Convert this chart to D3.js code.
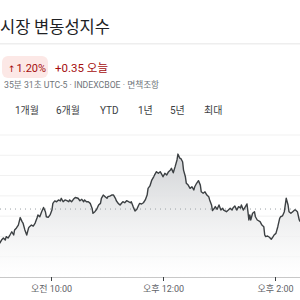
<!DOCTYPE html>
<html><head><meta charset="utf-8">
<script src="https://cdn.jsdelivr.net/npm/d3@7"></script>
<style>
html,body{margin:0;padding:0;background:#fff;overflow:hidden}
svg{display:block;font-family:Roboto,"Noto Sans CJK KR",sans-serif}
</style></head><body>
<svg id="c" width="300" height="300"></svg>
<script>
// ---- data ----
const title = "시장 변동성지수";
const changeArrow = "↑";
const changePct = "1.20%";
const changeAbs = "+0.35 오늘";
const subline = "35분 31초 UTC-5 · INDEXCBOE · 면책조항";
const ranges = ["1개월", "6개월", "YTD", "1년", "5년", "최대"];
const previousClose = 28.835;
const gridValues = [28.6, 28.7, 28.8, 28.9, 29.0, 29.1, 29.2];
const tickMinutes = [600, 720, 840];
const tickLabels = ["오전 10:00", "오후 12:00", "오후 2:00"];
const minutes = [545,547,549,551,552,554,556,558,560,561,563,565,567,569,570,572,574,576,577,579,581,583,585,586,588,590,592,594,595,597,599,601,602,604,606,608,610,611,613,615,617,619,620,622,624,626,629,631,633,635,636,638,640,642,644,645,647,649,651,653,654,656,658,660,661,663,665,667,669,670,672,674,676,677,679,681,683,685,686,688,690,692,694,695,697,699,701,703,704,706,708,710,711,713,715,717,719,720,722,724,726,728,729,731,733,735,736,738,739,741,742,744,745,747,749,751,753,754,756,758,760,761,763,765,767,769,770,772,773,775,776,778,780,782,784,785,788,790,792,794,795,797,799,801,803,804,806,808,810,811,812,813,814,816,818,819,821,824,826,828,829,830,832,834,836,838,839,841,843,845,846,848,850,852,854,855,857,859,861,862,864,866,867];
const values = [28.666,28.682,28.692,28.682,28.699,28.692,28.707,28.723,28.707,28.732,28.742,28.756,28.793,28.773,28.766,28.732,28.707,28.742,28.748,28.756,28.751,28.766,28.791,28.806,28.797,28.822,28.843,28.822,28.797,28.794,28.806,28.830,28.863,28.875,28.871,28.880,28.875,28.888,28.871,28.880,28.876,28.871,28.880,28.871,28.883,28.892,28.888,28.876,28.883,28.871,28.880,28.871,28.871,28.863,28.839,28.814,28.822,28.834,28.855,28.863,28.888,28.904,28.896,28.888,28.896,28.899,28.904,28.904,28.888,28.876,28.863,28.855,28.866,28.871,28.866,28.876,28.871,28.866,28.871,28.847,28.825,28.834,28.855,28.863,28.860,28.866,28.880,28.904,28.937,28.949,28.978,28.994,29.003,29.019,29.011,29.019,29.003,28.994,29.011,29.003,29.019,29.027,29.036,29.014,29.044,29.077,29.106,29.085,29.085,29.068,29.027,28.994,28.962,28.953,28.937,28.945,28.929,28.945,28.962,28.975,28.953,28.920,28.913,28.920,28.904,28.896,28.880,28.855,28.827,28.839,28.847,28.834,28.855,28.830,28.839,28.830,28.822,28.830,28.839,28.830,28.840,28.850,28.830,28.847,28.840,28.855,28.830,28.845,28.860,28.822,28.781,28.806,28.781,28.814,28.822,28.797,28.781,28.773,28.756,28.748,28.707,28.699,28.702,28.696,28.686,28.699,28.707,28.715,28.748,28.789,28.797,28.801,28.822,28.888,28.855,28.822,28.814,28.822,28.830,28.830,28.822,28.781,28.773];

const svg = d3.select("#c");

// header
svg.append("text").attr("x", 0).attr("y", 33).attr("font-size", 16.5)
  .attr("font-family", "'Noto Sans CJK KR',sans-serif").attr("fill", "#202124").text(title);
svg.append("rect").attr("x", 0).attr("y", 43).attr("width", 300).attr("height", 1.5).attr("fill", "#eeeeee");

svg.append("rect").attr("x", 2).attr("y", 56).attr("width", 46).attr("height", 22).attr("rx", 6).attr("fill", "#fce8e6");
const pct = svg.append("text").attr("x", 8).attr("y", 71.5).attr("font-size", 11).attr("fill", "#a50e0e");
pct.append("tspan").attr("font-size", 9).attr("font-family", "'DejaVu Sans',sans-serif").text(changeArrow);
pct.append("tspan").attr("dx", 1).text(changePct);
svg.append("text").attr("x", 55).attr("y", 71.5).attr("font-size", 11.5).attr("fill", "#a50e0e").text(changeAbs);
svg.append("text").attr("x", 4).attr("y", 88).attr("font-size", 8.7).attr("fill", "#70757a").text(subline);

const tabX = [15, 56, 100, 138, 170, 204];
ranges.forEach((r, i) => {
  svg.append("text").attr("x", tabX[i]).attr("y", 114).attr("font-size", 10)
    .attr("fill", "#3c4043").text(r);
});

// chart
const x = d3.scaleLinear().domain([600, 720]).range([51, 163]);
const y = d3.scaleLinear().domain([28.5, 29.2]).range([277, 135]);
const data = minutes.map((m, i) => ({m, v: values[i]}));

const defs = svg.append("defs");
const g = defs.append("linearGradient").attr("id", "fill").attr("gradientUnits", "userSpaceOnUse")
  .attr("x1", 0).attr("x2", 0).attr("y1", y(29.1)).attr("y2", y(28.5));
g.append("stop").attr("offset", 0).attr("stop-color", "#cfd1d4").attr("stop-opacity", 0.95);
g.append("stop").attr("offset", 0.45).attr("stop-color", "#e8e9ea").attr("stop-opacity", 0.9);
g.append("stop").attr("offset", 1).attr("stop-color", "#ffffff").attr("stop-opacity", 0.6);

svg.append("g").selectAll("line").data(gridValues).join("line")
  .attr("x1", 0).attr("x2", 300).attr("y1", d => y(d)).attr("y2", d => y(d))
  .attr("stroke", "#f1f1f1").attr("stroke-width", 1);

svg.append("path").datum(data)
  .attr("d", d3.area().x(d => x(d.m)).y0(y(28.5)).y1(d => y(d.v)))
  .attr("fill", "url(#fill)");

svg.append("line").attr("x1", 0).attr("x2", 300).attr("y1", y(previousClose)).attr("y2", y(previousClose))
  .attr("stroke", "#9aa0a6").attr("stroke-width", 1).attr("stroke-dasharray", "1,4");

svg.append("path").datum(data)
  .attr("d", d3.line().x(d => x(d.m)).y(d => y(d.v)))
  .attr("fill", "none").attr("stroke", "#3c4043").attr("stroke-width", 1.4).attr("stroke-linejoin", "round");

const ax = svg.append("g").attr("transform", `translate(0,${y(28.5)})`)
  .call(d3.axisBottom(x).tickValues(tickMinutes).tickFormat((d, i) => tickLabels[i]).tickSize(4).tickSizeOuter(0));
ax.select(".domain").attr("stroke", "#c8c8c8").attr("d", "M0,0.5H300");
ax.selectAll(".tick line").attr("stroke", "#3c4043");
ax.selectAll(".tick text").attr("fill", "#5f6368").attr("font-size", 9).attr("dy", "0.9em")
  .attr("font-family", "Roboto,'Noto Sans CJK KR',sans-serif");
</script></body></html>
